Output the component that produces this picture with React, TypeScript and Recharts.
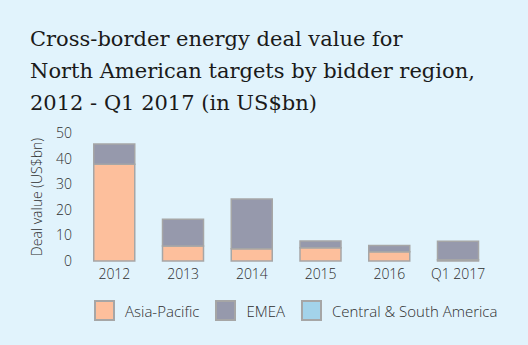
import React from 'react';
import { BarChart, Bar, XAxis, YAxis } from 'recharts';

const categories = ['2012', '2013', '2014', '2015', '2016', 'Q1 2017'];
const asiaPacific = [37.8, 5.9, 4.8, 5.2, 3.6, 0.5];
const emea = [7.9, 10.4, 19.4, 2.6, 2.5, 7.2];
const centralSouthAmerica = [0, 0, 0, 0, 0, 0];
const yTicks = [0, 10, 20, 30, 40, 50];

const seriesDefs = [
  { key: 'ap', name: 'Asia-Pacific', color: '#FDBF9C', values: asiaPacific },
  { key: 'emea', name: 'EMEA', color: '#9699AC', values: emea },
  { key: 'csa', name: 'Central & South America', color: '#A3D3EA', values: centralSouthAmerica },
];

const data = categories.map((c, i) => {
  const row: Record<string, string | number> = { name: c };
  seriesDefs.forEach((s) => {
    row[s.key] = s.values[i];
  });
  return row;
});

const BG = '#E1F3FC';
const TEXT = '#2e2e2e';
const STROKE = '#A6A6A6';
const SANS = '"Open Sans", "Noto Sans", sans-serif';

export default function App() {
  return (
    <div style={{ position: 'absolute', left: 0, top: 0, width: 528, height: 345, background: BG, overflow: 'hidden' }}>
      <div
        style={{
          position: 'absolute',
          left: 30,
          top: 23,
          fontFamily: '"DejaVu Serif", serif',
          fontSize: 21,
          lineHeight: '32px',
          color: '#1a1a1a',
          whiteSpace: 'nowrap',
        }}
      >
        <div>Cross-border energy deal value for</div>
        <div>North American targets by bidder region,</div>
        <div>2012 - Q1 2017 (in US$bn)</div>
      </div>
      <div style={{ position: 'absolute', left: 0, top: 0 }}>
        <BarChart
          width={528}
          height={345}
          data={data}
          margin={{ top: 133, right: 35.5, left: 0, bottom: 54 }}
          barCategoryGap="20%"
        >
          <XAxis
            dataKey="name"
            axisLine={false}
            tickLine={false}
            interval={0}
            tick={{ fontSize: 14, fill: TEXT, fontFamily: SANS, fontWeight: 300 }}
          />
          <YAxis
            width={80}
            domain={[0, 50]}
            ticks={yTicks}
            axisLine={false}
            tickLine={false}
            tick={{ fontSize: 14, fill: TEXT, fontFamily: SANS, fontWeight: 300 }}
            label={(props: any) => {
              const vb = props.viewBox || {};
              const cy = (vb.y ?? 133) + (vb.height ?? 128) / 2;
              const cx = 36;
              return (
                <text
                  x={cx}
                  y={cy}
                  transform={`rotate(-90 ${cx} ${cy})`}
                  textAnchor="middle"
                  dominantBaseline="central"
                  fontSize={14}
                  fontWeight={300}
                  fill={TEXT}
                  fontFamily={SANS}
                >
                  Deal value (US$bn)
                </text>
              );
            }}
          />
          {seriesDefs.map((s) => (
            <Bar
              key={s.key}
              dataKey={s.key}
              name={s.name}
              stackId="a"
              fill={s.color}
              stroke={STROKE}
              strokeWidth={1.5}
              isAnimationActive={false}
            />
          ))}
        </BarChart>
      </div>
      <div
        style={{
          position: 'absolute',
          left: 94,
          top: 300,
          display: 'flex',
          alignItems: 'center',
          fontFamily: SANS,
          fontSize: 15,
          fontWeight: 300,
          color: TEXT,
          whiteSpace: 'nowrap',
        }}
      >
        {seriesDefs.map((s) => (
          <div key={s.key} style={{ display: 'flex', alignItems: 'center', marginRight: 16 }}>
            <div
              style={{
                width: 17,
                height: 17,
                background: s.color,
                border: `2px solid ${STROKE}`,
                marginRight: 10,
              }}
            />
            <span>{s.name}</span>
          </div>
        ))}
      </div>
    </div>
  );
}
